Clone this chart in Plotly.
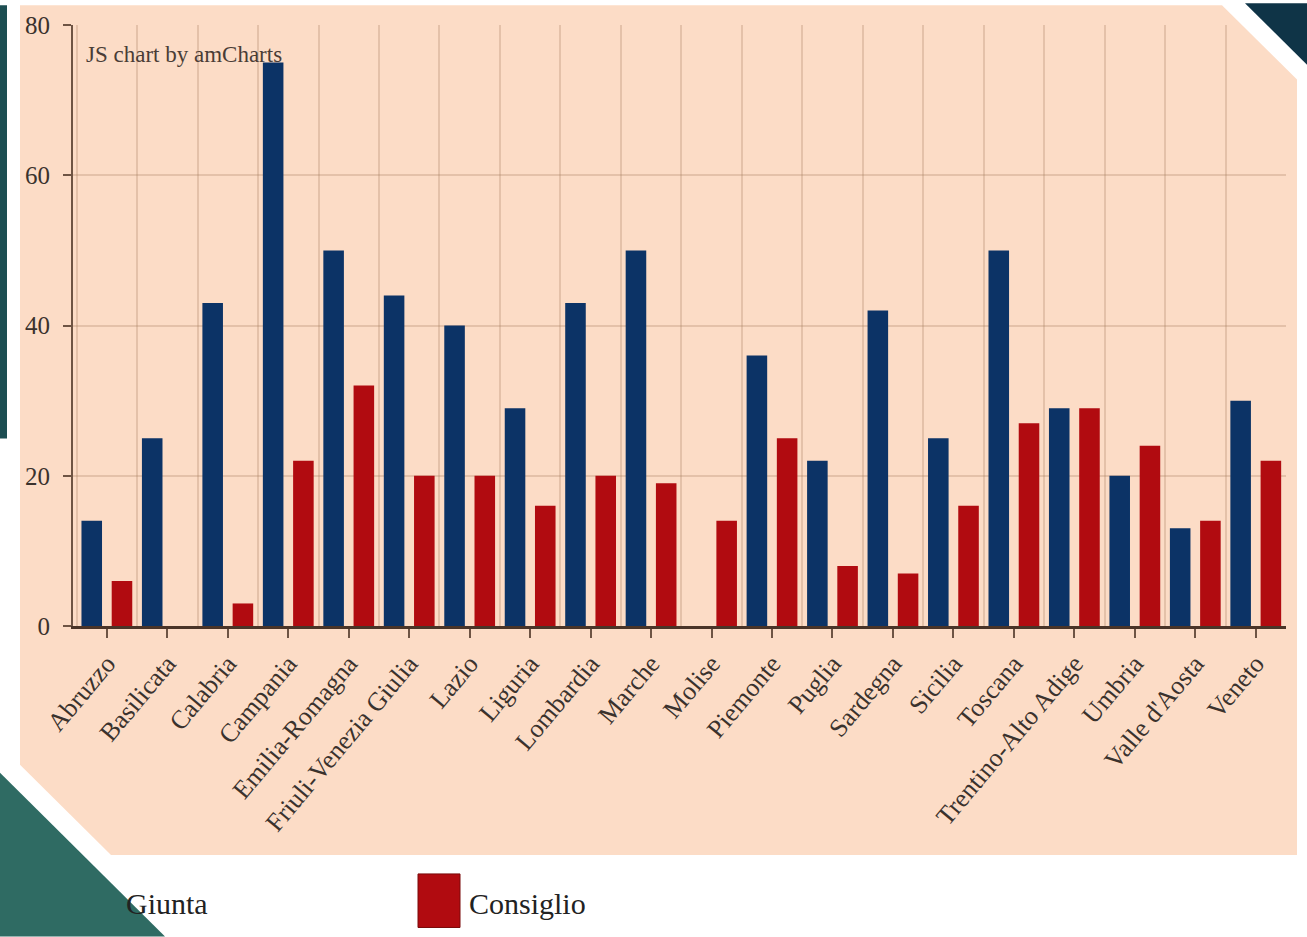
import plotly.graph_objects as go

regions = ["Abruzzo", "Basilicata", "Calabria", "Campania", "Emilia-Romagna",
           "Friuli-Venezia Giulia", "Lazio", "Liguria", "Lombardia", "Marche",
           "Molise", "Piemonte", "Puglia", "Sardegna", "Sicilia", "Toscana",
           "Trentino-Alto Adige", "Umbria", "Valle d'Aosta", "Veneto"]
giunta = [14, 25, 43, 75, 50, 44, 40, 29, 43, 50, 0, 36, 22, 42, 25, 50, 29, 20, 13, 30]
consiglio = [6, 0, 3, 22, 32, 20, 20, 16, 20, 19, 14, 25, 8, 7, 16, 27, 29, 24, 14, 22]
y_ticks = [0, 20, 40, 60, 80]

BLUE = "#0c3366"
RED = "#b10b10"
PEACH = "#fcdcc6"
TEAL = "#2f6b63"
NAVY = "#0f3447"
BROWN = "#6e5444"
GRID = "rgba(165,125,95,0.28)"
TXT = "#3a322d"
SERIF = "Liberation Serif"

W, H = 1307, 937
ML, MR, MT, MB = 73, 21, 20, 311
PW, PH = W - ML - MR, H - MT - MB

xs = list(range(len(regions)))

fig = go.Figure()
fig.add_bar(x=xs, y=giunta, name="Giunta", marker=dict(color=BLUE, line=dict(width=0)))
fig.add_bar(x=xs, y=consiglio, name="Consiglio", marker=dict(color=RED, line=dict(width=0)))


def fx(x):
    return (x - ML) / PW


def fy(y):
    return (H - MB - y) / PH


def path(pts):
    return "M " + " L ".join(f"{fx(x):.5f},{fy(y):.5f}" for x, y in pts) + " Z"


shapes = [
    # peach slide area with cut corners
    dict(type="path", xref="paper", yref="paper", layer="below",
         path=path([(20, 0), (1222, 0), (1297, 75), (1297, 857), (111, 857), (20, 766)]),
         fillcolor=PEACH, line=dict(width=0)),
    # left dark strip
    dict(type="rect", xref="paper", yref="paper", layer="below",
         x0=fx(0), x1=fx(7), y0=fy(437), y1=fy(0), fillcolor="#1d4e52", line=dict(width=0)),
    # legend squares
    dict(type="rect", xref="paper", yref="paper", layer="below",
         x0=fx(56), x1=fx(98), y0=fy(930), y1=fy(876),
         fillcolor=BLUE, line=dict(color="#082648", width=1)),
    dict(type="rect", xref="paper", yref="paper", layer="below",
         x0=fx(418), x1=fx(460), y0=fy(930), y1=fy(876),
         fillcolor=RED, line=dict(color="#7a0a0a", width=1)),
    # bottom-left teal triangle
    dict(type="path", xref="paper", yref="paper", layer="above",
         path=path([(0, 774), (165, 939), (0, 939)]),
         fillcolor=TEAL, line=dict(width=0)),
    # top-right navy triangle
    dict(type="path", xref="paper", yref="paper", layer="above",
         path=path([(1245, -2), (1309, -2), (1309, 62)]),
         fillcolor=NAVY, line=dict(width=0)),
]

annotations = [
    dict(text="JS chart by amCharts", xref="paper", yref="paper",
         x=fx(84), y=fy(50), xanchor="left", yanchor="middle", showarrow=False,
         font=dict(family=SERIF, size=23, color="#4a3d36")),
    dict(text="Giunta", xref="paper", yref="paper",
         x=fx(124), y=fy(906), xanchor="left", yanchor="middle", showarrow=False,
         font=dict(family=SERIF, size=30, color="#222222")),
    dict(text="Consiglio", xref="paper", yref="paper",
         x=fx(467), y=fy(906), xanchor="left", yanchor="middle", showarrow=False,
         font=dict(family=SERIF, size=30, color="#222222")),
]

fig.update_layout(
    width=W, height=H, autosize=False,
    margin=dict(l=ML, r=MR, t=MT, b=MB, pad=0),
    paper_bgcolor="white", plot_bgcolor="rgba(0,0,0,0)",
    barmode="group", bargap=0.0, bargroupgap=0.32,
    showlegend=False,
    shapes=shapes, annotations=annotations,
    font=dict(family=SERIF, color=TXT),
)

fig.update_xaxes(
    range=[-0.56, 19.5],
    tickmode="array", tickvals=xs, ticktext=regions,
    tickangle=-50, tickfont=dict(family=SERIF, size=26, color=TXT),
    ticks="outside", ticklen=9, tickwidth=2, tickcolor=BROWN,
    showline=True, linecolor="#4a3428", linewidth=3,
    showgrid=False, zeroline=False,
    minor=dict(tickmode="array", tickvals=[i - 0.5 for i in range(len(regions) + 1)],
               showgrid=True, gridcolor=GRID, gridwidth=1.5, ticks=""),
)
fig.update_yaxes(
    range=[0, 80], tickmode="array", tickvals=y_ticks,
    tickfont=dict(family=SERIF, size=25, color=TXT),
    ticks="outside", ticklen=8, tickwidth=2, tickcolor=BROWN,
    ticklabelstandoff=8,
    showline=True, linecolor=BROWN, linewidth=2,
    showgrid=True, gridcolor=GRID, gridwidth=1.5, zeroline=False,
)

fig.write_html("out.html")
